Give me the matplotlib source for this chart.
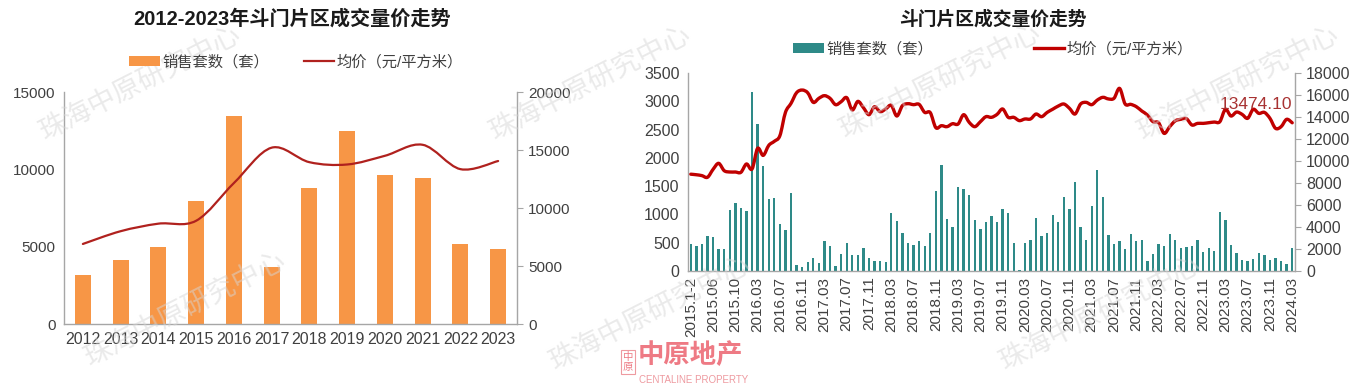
import numpy as np
import matplotlib
matplotlib.use('Agg')
import matplotlib.pyplot as plt
from matplotlib.path import Path
from matplotlib.patches import PathPatch, Patch
from matplotlib.lines import Line2D

plt.rcParams['font.family'] = ['Liberation Sans', 'Noto Sans CJK SC', 'DejaVu Sans']

# ---------------- data ----------------
years = ['2012', '2013', '2014', '2015', '2016', '2017', '2018', '2019', '2020', '2021', '2022', '2023']
sales_year = [3200, 4150, 4950, 7950, 13450, 3700, 8800, 12500, 9650, 9450, 5200, 4850]
price_year = [6900, 8000, 8650, 8900, 12150, 15200, 13950, 13750, 14500, 15450, 13350, 14050]

month_ticks = ['2015.1-2', '2015.06', '2015.10', '2016.03', '2016.07', '2016.11', '2017.03',
               '2017.07', '2017.11', '2018.03', '2018.07', '2018.11', '2019.03', '2019.07',
               '2019.11', '2020.03', '2020.07', '2020.11', '2021.03', '2021.07', '2021.11',
               '2022.03', '2022.07', '2022.11', '2023.03', '2023.07', '2023.11', '2024.03']

sales_month = [470, 435, 485, 620, 600, 385, 385, 1080, 1200, 1105, 1055, 3160, 2595, 1855, 1270,
               1290, 830, 725, 1380, 105, 70, 155,
               235, 140, 530, 435, 90, 300, 500, 290, 290, 400, 235, 175, 175, 165, 1025, 880,
               665, 490, 455, 530, 440, 675,
               1410, 1865, 920, 780, 1480, 1445, 1345, 905, 745, 875, 975, 875, 1090, 1020, 495,
               25, 495, 545, 945, 615, 680, 990,
               865, 1300, 1090, 1575, 780, 550, 1155, 1790, 1315, 630, 485, 530, 385, 650, 530,
               550, 175, 305, 485, 435, 660, 550,
               400, 420, 435, 550, 335, 400, 350, 1035, 905, 465, 320, 200, 175, 205, 320, 290,
               190, 235, 170, 125, 400]

price_month = [8800, 8750, 8670, 8520, 9240, 9790, 9120, 9000, 9000, 8970, 9730, 9270, 11150,
               10510, 11420, 11790, 12300, 14420, 15240, 16210, 16450, 16200,
               15330, 15700, 15940, 15700, 15120, 15390, 15760, 14640, 15420, 14850, 14210,
               14940, 14480, 14730, 15060, 14090, 15030, 15210, 15120, 15150, 14420, 14400,
               13030, 13210, 13120, 13390, 13360, 14210, 13510, 13120, 13570, 14030, 13970,
               14240, 14730, 13970, 13970, 13670, 13820, 13820, 14270, 14030, 14420, 14710,
               15000, 15180, 14790, 14270, 15180, 15330, 15120, 15540, 15790, 15640, 15700,
               16600, 15180, 15150, 14940, 14540, 14180, 13570, 13480, 12510, 13120, 13650,
               13790, 13850, 13270, 13420, 13420, 13480, 13540, 13570, 14700, 14090, 14450,
               14240, 13880, 14700, 14330, 14420, 13880, 12970, 13120, 13790, 13474.10]

legend_labels = ['销售套数（套）', '均价（元/平方米）']

# ---------------- style ----------------
ORANGE = '#F79646'
DARKRED = '#B0211E'
TEAL = '#2E8A88'
RED = '#C00000'
GRAY = '#A6A6A6'
TXT = '#404040'

W, H = 1360, 392
fig = plt.figure(figsize=(W / 100, H / 100), dpi=100)


def rect(l, t, r, b):
    return [l / W, 1 - b / H, (r - l) / W, (b - t) / H]


def smooth_path(xs, ys):
    xs = np.asarray(xs, float)
    ys = np.asarray(ys, float)
    n = len(xs)
    verts = [(xs[0], ys[0])]
    codes = [Path.MOVETO]
    for i in range(n - 1):
        i0 = max(i - 1, 0)
        i3 = min(i + 2, n - 1)
        c1 = (xs[i] + (xs[i + 1] - xs[i0]) / 6, ys[i] + (ys[i + 1] - ys[i0]) / 6)
        c2 = (xs[i + 1] - (xs[i3] - xs[i]) / 6, ys[i + 1] - (ys[i3] - ys[i]) / 6)
        verts += [c1, c2, (xs[i + 1], ys[i + 1])]
        codes += [Path.CURVE4] * 3
    return Path(verts, codes)


def style_axes(ax, axr):
    ax.spines['top'].set_visible(False)
    axr.spines['top'].set_visible(False)
    for s in ['left', 'bottom']:
        ax.spines[s].set_color(GRAY)
        ax.spines[s].set_linewidth(1.0)
    axr.spines['right'].set_color(GRAY)
    axr.spines['left'].set_visible(False)
    axr.spines['bottom'].set_visible(False)
    ax.tick_params(axis='y', length=0, colors=TXT, labelsize=11, pad=6)
    ax.tick_params(axis='x', length=0, colors=TXT, labelsize=11.5, pad=6)
    axr.tick_params(axis='y', length=4, direction='out', color=GRAY, labelcolor=TXT,
                    labelsize=11, pad=4)


# ---------------- watermarks ----------------
wm_pos = [(140, 82), (185, 308), (590, 82), (940, 80), (650, 312), (1100, 312), (1238, 82)]
for (px, py) in wm_pos:
    fig.text(px / W, 1 - py / H, '珠海中原研究中心', rotation=27, ha='center', va='center',
             fontsize=20, color='#d6d6d6', alpha=0.5, family=['Noto Sans CJK SC'],
             zorder=0)

# ---------------- left chart ----------------
ax1 = fig.add_axes(rect(64, 92, 517, 324))
ax1.patch.set_alpha(0)
x = np.arange(len(years))
ax1.bar(x, sales_year, width=0.42, color=ORANGE, zorder=2)
ax1.set_xlim(-0.5, len(years) - 0.5)
ax1.set_ylim(0, 15000)
ax1.set_yticks(np.arange(0, 15001, 5000))
ax1.set_xticks(x)
ax1.set_xticklabels(years)
ax1b = ax1.twinx()
ax1b.set_ylim(0, 20000)
ax1b.set_yticks(np.arange(0, 20001, 5000))
ax1b.add_patch(PathPatch(smooth_path(x, price_year), fill=False, edgecolor=DARKRED,
                         lw=1.6, transform=ax1b.transData, capstyle='round'))
style_axes(ax1, ax1b)

fig.text(292 / W, 1 - 19 / H, '2012-2023年斗门片区成交量价走势', ha='center', va='center',
         fontsize=14.5, fontweight='bold', color='#1a1a1a')
fig.legend([Patch(facecolor=ORANGE, edgecolor='none'), Line2D([], [], color=DARKRED, lw=1.6)],
           legend_labels, loc='center', bbox_to_anchor=(296 / W, 1 - 62 / H), ncol=2,
           frameon=False, fontsize=11, handlelength=2.0, handleheight=0.55,
           handletextpad=0.15, columnspacing=2.3, labelcolor=TXT)

# ---------------- right chart ----------------
ax2 = fig.add_axes(rect(688, 73, 1295, 271))
ax2.patch.set_alpha(0)
xm = np.arange(len(sales_month))
ax2.bar(xm, sales_month, width=0.42, color=TEAL, zorder=2)
ax2.set_xlim(-0.5, len(sales_month) - 0.5)
ax2.set_ylim(0, 3500)
ax2.set_yticks(np.arange(0, 3501, 500))
ax2.set_xticks(np.arange(0, len(sales_month), 4))
ax2.set_xticklabels(month_ticks, rotation=90)
ax2b = ax2.twinx()
ax2b.set_ylim(0, 18000)
ax2b.set_yticks(np.arange(0, 18001, 2000))
ax2b.add_patch(PathPatch(smooth_path(xm, price_month), fill=False, edgecolor=RED,
                         lw=2.4, transform=ax2b.transData, capstyle='round', joinstyle='round'))
style_axes(ax2, ax2b)
ax2.tick_params(axis='x', labelsize=11, pad=4)
ax2.tick_params(axis='y', labelsize=11.5)
ax2b.tick_params(axis='y', labelsize=11.5)
ax2b.annotate(f'{price_month[-1]:.2f}', xy=(xm[-1], price_month[-1]), xytext=(0, 8),
              textcoords='offset points', ha='right', va='bottom', fontsize=12.5,
              color='#A83232')

fig.text(993 / W, 1 - 19 / H, '斗门片区成交量价走势', ha='center', va='center',
         fontsize=13.5, fontweight='bold', color='#1a1a1a')
fig.legend([Patch(facecolor=TEAL, edgecolor='none'), Line2D([], [], color=RED, lw=2.4)],
           legend_labels, loc='center', bbox_to_anchor=(993 / W, 1 - 49 / H), ncol=2,
           frameon=False, fontsize=11, handlelength=2.0, handleheight=0.55,
           handletextpad=0.15, columnspacing=6.6, labelcolor=TXT)

# ---------------- logo ----------------
fig.text(628 / W, 1 - 362 / H, '中\n原', ha='center', va='center', fontsize=7.5,
         color='#EE7A84', linespacing=1.0,
         bbox=dict(boxstyle='square,pad=0.15', fc='none', ec='#EE9AA0', lw=0.8))
fig.text(638 / W, 1 - 355 / H, '中原地产', ha='left', va='center', fontsize=19,
         fontweight='bold', color='#EE7A84')
fig.text(639 / W, 1 - 380 / H, 'CENTALINE PROPERTY', ha='left', va='center', fontsize=7,
         color='#EE9AA0')

fig.savefig('out.png', dpi=100)
